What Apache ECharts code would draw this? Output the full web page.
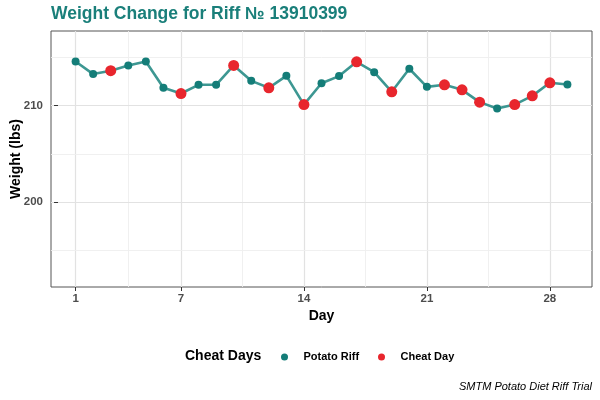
<!DOCTYPE html>
<html>
<head>
<meta charset="utf-8">
<script src="https://cdn.jsdelivr.net/npm/echarts@6/dist/echarts.min.js"></script>
<style>html,body{margin:0;padding:0;background:#fff}#c{width:600px;height:400px}</style>
</head>
<body>
<div id="c"></div>
<script>
const days = [1,2,3,4,5,6,7,8,9,10,11,12,13,14,15,16,17,18,19,20,21,22,23,24,25,26,27,28,29];
const weights = [214.55,213.25,213.6,214.14,214.55,211.83,211.24,212.14,212.14,214.14,212.55,211.83,213.07,210.1,212.3,213.04,214.52,213.45,211.42,213.8,211.93,212.14,211.62,210.35,209.7,210.1,211.0,212.35,212.17];
const cheatDay = [0,0,1,0,0,0,1,0,0,1,0,1,0,1,0,0,1,0,1,0,0,1,1,1,0,1,1,1,0];
const xTicks = [1,7,14,21,28];
const xMinor = [4,10.5,17.5,24.5];
const yTicks = [200,210];
const yMinor = [195,205,215];
const titleText = 'Weight Change for Riff № 13910399';
const legendTitle = 'Cheat Days';
const groupNames = ['Potato Riff','Cheat Day'];
const caption = 'SMTM Potato Diet Riff Trial';

const teal = '#147D78', red = '#E8262D', lineCol = '#3D9792';
const F = '"Liberation Sans", Arial, sans-serif';

const linePts = days.map((d,i)=>[d,weights[i]]);
const riffPts = days.map((d,i)=>[d,weights[i]]).filter((p,i)=>!cheatDay[i]);
const cheatPts = days.map((d,i)=>[d,weights[i]]).filter((p,i)=>cheatDay[i]);

const major = {color:'#e2e2e2', width:1.2, type:'solid'};
const minor = {color:'#eeeeee', width:0.9, type:'solid'};
const gridMarks = [].concat(
  xTicks.map(v=>({xAxis:v, lineStyle:major})),
  xMinor.map(v=>({xAxis:v, lineStyle:minor})),
  yTicks.map(v=>({yAxis:v, lineStyle:major})),
  yMinor.map(v=>({yAxis:v, lineStyle:minor}))
);

const chart = echarts.init(document.getElementById('c'), null, {renderer:'canvas'});
chart.setOption({
  animation:false,
  backgroundColor:'#fff',
  title:{text:titleText, left:46, top:0, textStyle:{color:'#1A7F7A', fontFamily:F, fontWeight:'bold', fontSize:17.5}},
  grid:{left:51, right:8, top:31, bottom:113, show:true, borderColor:'#555', borderWidth:1, backgroundColor:'transparent',
    containLabel:false, outerBoundsMode:'none'},
  xAxis:{type:'value', min:-0.4, max:30.4,
    name:'Day', nameLocation:'middle', nameGap:22, nameMoveOverlap:false,
    nameTextStyle:{fontFamily:F, fontWeight:'bold', fontSize:14, color:'#000'},
    axisLine:{show:false}, splitLine:{show:false},
    axisTick:{show:true, length:4, lineStyle:{color:'#333'}, customValues:xTicks},
    axisLabel:{customValues:xTicks, fontFamily:F, fontWeight:'bold', fontSize:11.5, color:'#4d4d4d', margin:6}},
  yAxis:{type:'value', min:191.25, max:217.7,
    name:'Weight (lbs)', nameLocation:'middle', nameGap:28, nameRotate:90, nameMoveOverlap:false,
    nameTextStyle:{fontFamily:F, fontWeight:'bold', fontSize:14, color:'#000'},
    axisLine:{show:false}, splitLine:{show:false},
    axisTick:{show:true, length:4, lineStyle:{color:'#333'}, customValues:yTicks},
    axisLabel:{customValues:yTicks, fontFamily:F, fontWeight:'bold', fontSize:11.5, color:'#4d4d4d', margin:8}},
  legend:[
    {data:[groupNames[0]], left:276, top:346.5, icon:'circle', itemWidth:28, itemHeight:7, itemGap:0,
      textStyle:{fontFamily:F, fontWeight:'bold', fontSize:11, color:'#000'}},
    {data:[groupNames[1]], left:373, top:346.5, icon:'circle', itemWidth:28, itemHeight:7, itemGap:0,
      textStyle:{fontFamily:F, fontWeight:'bold', fontSize:11, color:'#000'}}
  ],
  graphic:[
    {type:'text', left:185, top:349.5, style:{text:legendTitle, font:'bold 14px '+F, fill:'#000'}},
    {type:'text', right:8, top:381, style:{text:caption, font:'italic 11px '+F, fill:'#000'}}
  ],
  series:[
    {name:'grid', type:'line', data:linePts, showSymbol:false, symbol:'none', lineStyle:{opacity:0}, z:0, silent:true,
      markLine:{silent:true, z:0, symbol:['none','none'], label:{show:false}, animation:false, data:gridMarks}},
    {name:'trend', type:'line', data:linePts, showSymbol:false, symbol:'none', z:6, silent:true,
      lineStyle:{color:lineCol, width:2.6}},
    {name:groupNames[0], type:'scatter', data:riffPts, symbol:'circle', symbolSize:8, z:7,
      itemStyle:{color:teal, opacity:1}},
    {name:groupNames[1], type:'scatter', data:cheatPts, symbol:'circle', symbolSize:11, z:7,
      itemStyle:{color:red, opacity:1}}
  ]
});
</script>
</body>
</html>
